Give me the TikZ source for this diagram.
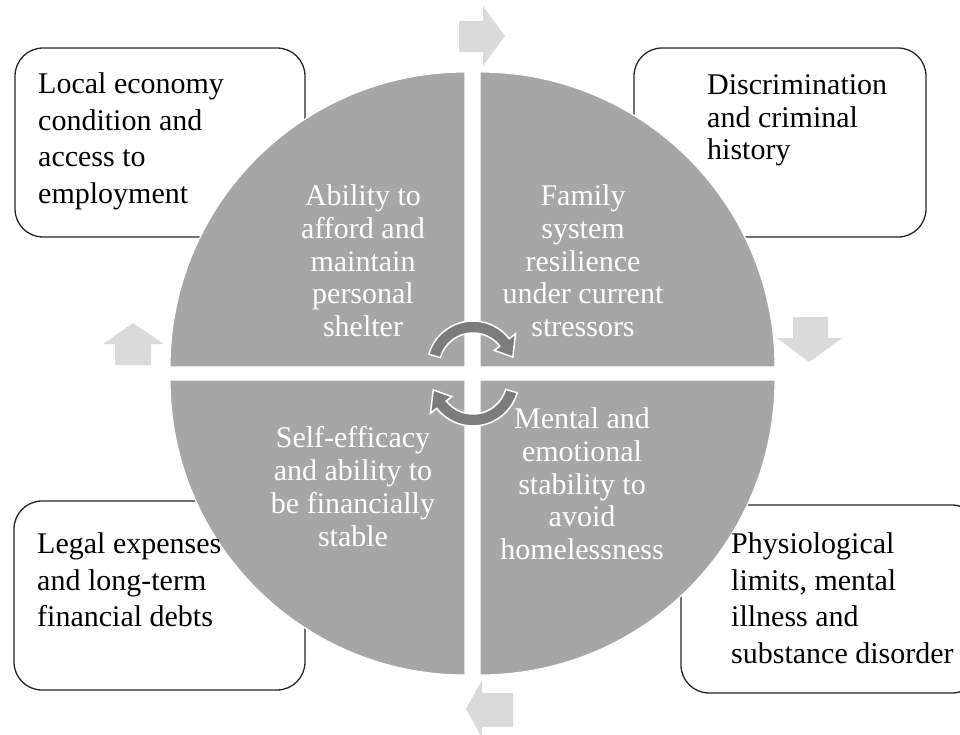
\documentclass[tikz,border=0pt]{standalone}
\usepackage{fontspec}
\setmainfont{Liberation Serif}
\definecolor{quadgray}{HTML}{A6A6A6}
\definecolor{cyclegray}{HTML}{7C7C7C}
\definecolor{flowgray}{HTML}{DADADA}
\begin{document}
\begin{tikzpicture}[x=1pt,y=-1pt,
  box/.style={draw=black!85, line width=1.3pt, rounded corners=28pt, fill=white},
  quad/.style={fill=quadgray, draw=white, line width=1.2pt},
  boxtext/.style={anchor=north west, inner sep=0pt, align=left,
    font=\fontsize{30}{36.6}\selectfont, text=black},
  quadtext/.style={anchor=north, inner sep=0pt, align=center,
    font=\fontsize{30}{32.75}\selectfont, text=white},
  flow/.style={fill=flowgray, draw=none},
  cyclearrow/.style={fill=cyclegray, draw=white, line width=1.5pt}]
\useasboundingbox (0,0) rectangle (960,734);

% outer factor boxes (partly hidden behind the circle)
\draw[box] (15,48) rectangle (305,237);
\draw[box] (634,48) rectangle (926,237);
\draw[box] (14,501) rectangle (305,690);
\draw[box] (681,505) rectangle (980,693);

% four quadrants of the circle
\draw[quad] (465,367) -- ++(-295,0) arc[start angle=180, end angle=270, radius=295] -- cycle;
\draw[quad] (480,367) -- ++(0,-295) arc[start angle=270, end angle=360, radius=295] -- cycle;
\draw[quad] (480,380) -- ++(295,0) arc[start angle=0, end angle=90, radius=295] -- cycle;
\draw[quad] (465,380) -- ++(0,295) arc[start angle=90, end angle=180, radius=295] -- cycle;

% block arrows around the circle
\fill[flow] (459,21) -- (483,21) -- (483,6) -- (505,36) -- (483,66) -- (483,52) -- (459,52) -- cycle;
\fill[flow] (793,317) -- (828,317) -- (828,338) -- (842,338) -- (809,362) -- (777,338) -- (793,338) -- cycle;
\fill[flow] (513,693) -- (482,693) -- (482,680) -- (466,709) -- (482,738) -- (482,727) -- (513,727) -- cycle;
\fill[flow] (115,365) -- (115,344) -- (103,344) -- (133,323) -- (164,344) -- (151,344) -- (151,365) -- cycle;

% circular arrows in the middle
\begin{scope}[shift={(473,367)}]
  \draw[cyclearrow] (196:46) arc[start angle=196, end angle=322, radius=46]
    -- (322:54) -- (346:41) -- (322:27) -- (322:34)
    arc[start angle=322, end angle=196, radius=34] -- cycle;
\end{scope}
\begin{scope}[shift={(473,380)}]
  \draw[cyclearrow] (16:46) arc[start angle=16, end angle=142, radius=46]
    -- (142:54) -- (166:41) -- (142:27) -- (142:34)
    arc[start angle=142, end angle=16, radius=34] -- cycle;
\end{scope}

% texts of the outer boxes
\node[boxtext] (econ) at (38,72.5) {Local economy\\condition and\\access to\\employment};
\node[boxtext, font=\fontsize{30}{32.5}\selectfont] (discr) at (707,74.5) {Discrimination\\and criminal\\history};
\node[boxtext] (legal) at (37,532.5) {Legal expenses\\and long-term\\financial debts};
\node[boxtext] (physio) at (731,532.5) {Physiological\\limits, mental\\illness and\\substance disorder};

% texts of the quadrants
\node[quadtext] (shelter) at (363,184.5) {Ability to\\afford and\\maintain\\personal\\shelter};
\node[quadtext] (family) at (583,184.5) {Family\\system\\resilience\\under current\\stressors};
\node[quadtext] (selfeff) at (353,426.5) {Self-efficacy\\and ability to\\be financially\\stable};
\node[quadtext] (mental) at (582,407.5) {Mental and\\emotional\\stability to\\avoid\\homelessness};
\end{tikzpicture}
\end{document}
